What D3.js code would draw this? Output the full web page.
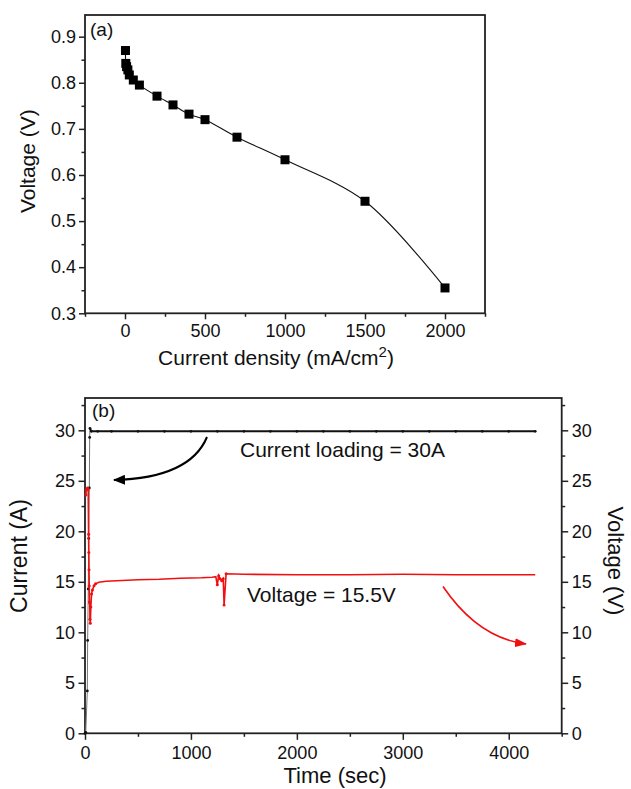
<!DOCTYPE html>
<html>
<head>
<meta charset="utf-8">
<script src="https://cdn.jsdelivr.net/npm/d3@7"></script>
<style>
  html, body { margin: 0; padding: 0; background: #fff; }
  svg { display: block; }
  text { font-family: "Liberation Sans", Arial, Helvetica, sans-serif; fill: #111; }
</style>
</head>
<body>
<svg id="chart" width="631" height="789"></svg>
<script>
// ---------- Panel (a): polarization curve ----------
const currentDensity = [3, 5, 10, 18, 27, 52, 90, 200, 300, 400, 500, 700, 1000, 1500, 2000];
const cellVoltage    = [0.87, 0.842, 0.835, 0.828, 0.817, 0.806, 0.795, 0.771, 0.752, 0.732, 0.72, 0.682, 0.633, 0.543, 0.355];
const aXTicks = [0, 500, 1000, 1500, 2000];
const aXMinor = [-250, 250, 750, 1250, 1750, 2250];
const aYTicks = [0.3, 0.4, 0.5, 0.6, 0.7, 0.8, 0.9];
const aYMinor = [0.35, 0.45, 0.55, 0.65, 0.75, 0.85];

// ---------- Panel (b): stack test ----------
const currentTime = [0, 7, 22, 25, 31, 35, 41, 44, 47, 60, 120, 250, 500, 750, 1000, 1250, 1500, 1750, 2000, 2250, 2500, 2750, 3000, 3250, 3500, 3750, 4000, 4250];
const currentVal  = [0, 0.1, 4.2, 9.2, 14.3, 19.3, 24.3, 29.3, 30.2, 29.9, 29.9, 29.9, 29.9, 29.9, 29.9, 29.9, 29.9, 29.9, 29.9, 29.9, 29.9, 29.9, 29.9, 29.9, 29.9, 29.9, 29.9, 29.9];
const voltTime = [8, 12, 18, 24, 30, 34, 36, 38, 40, 42, 45, 47, 50, 55, 62, 70, 85, 100, 130, 200, 300, 500, 700, 900, 1100, 1200, 1235, 1249, 1262, 1275, 1291, 1305, 1313, 1332, 1500, 2000, 2500, 3000, 3500, 4000, 4250];
const voltVal  = [23.6, 24.1, 24.2, 24.3, 24.2, 19.7, 17.9, 16.2, 14.6, 13.0, 12.9, 11.3, 10.9, 12.5, 13.8, 14.2, 14.6, 14.8, 14.95, 15.05, 15.1, 15.2, 15.25, 15.35, 15.4, 15.45, 15.5, 14.7, 15.6, 15.3, 15.1, 15.3, 12.7, 15.8, 15.75, 15.7, 15.7, 15.75, 15.7, 15.7, 15.7];
const bXTicks = [0, 1000, 2000, 3000, 4000];
const bXMinor = [500, 1500, 2500, 3500, 4500];
const bYTicks = [0, 5, 10, 15, 20, 25, 30];
const bYMinor = [2.5, 7.5, 12.5, 17.5, 22.5, 27.5, 32.5];

const svg = d3.select("#chart");
const AX = "#222";

function styleAxis(g, fs) {
  g.select(".domain").remove();
  g.selectAll(".tick line").attr("stroke", AX).attr("stroke-width", 1.5);
  g.selectAll(".tick text").style("font-size", fs + "px").attr("fill", "#111");
}

// ======== Panel (a) ========
const aL = 85, aR = 485, aT = 15, aB = 313.3;
const xa = d3.scaleLinear().domain([-250, 2250]).range([aL, aR]);
const ya = d3.scaleLinear().domain([0.3, 0.947]).range([aB, aT]);

const ga = svg.append("g");
ga.append("g").attr("transform", `translate(0,${aB})`)
  .call(d3.axisBottom(xa).tickValues(aXTicks).tickFormat(d3.format("d")).tickSize(6).tickPadding(5))
  .call(g => styleAxis(g, 18));
ga.append("g").attr("transform", `translate(0,${aB})`)
  .call(d3.axisBottom(xa).tickValues(aXMinor).tickFormat("").tickSize(3.5))
  .call(g => styleAxis(g, 18));
ga.append("g").attr("transform", `translate(${aL},0)`)
  .call(d3.axisLeft(ya).tickValues(aYTicks).tickFormat(d3.format(".1f")).tickSize(6).tickPadding(3))
  .call(g => styleAxis(g, 18));
ga.append("g").attr("transform", `translate(${aL},0)`)
  .call(d3.axisLeft(ya).tickValues(aYMinor).tickFormat("").tickSize(3.5))
  .call(g => styleAxis(g, 18));
ga.append("rect").attr("x", aL).attr("y", aT).attr("width", aR - aL).attr("height", aB - aT)
  .attr("fill", "none").attr("stroke", AX).attr("stroke-width", 1.8);

const aData = currentDensity.map((c, i) => ({ x: c, y: cellVoltage[i] }));
ga.append("path").datum(aData)
  .attr("fill", "none").attr("stroke", "#111").attr("stroke-width", 1.1)
  .attr("d", d3.line().x(d => xa(d.x)).y(d => ya(d.y)).curve(d3.curveCatmullRom.alpha(0.5)));
ga.selectAll("rect.pt").data(aData).enter().append("rect").attr("class", "pt")
  .attr("x", d => xa(d.x) - 4.5).attr("y", d => ya(d.y) - 4.5)
  .attr("width", 9).attr("height", 9).attr("fill", "#000");

ga.append("text").attr("x", 90).attr("y", 36).style("font-size", "19px").text("(a)");
ga.append("text").attr("x", 276).attr("y", 365).attr("text-anchor", "middle").style("font-size", "21px")
  .text("Current density (mA/cm")
  .call(t => t.append("tspan").attr("dy", -8).style("font-size", "15px").text("2"))
  .call(t => t.append("tspan").attr("dy", 8).text(")"));
ga.append("text").attr("transform", `translate(35,${(aT + aB) / 2 - 3}) rotate(-90)`)
  .attr("text-anchor", "middle").style("font-size", "21px").text("Voltage (V)");

// ======== Panel (b) ========
const bL = 85, bR = 561.7, bT = 398, bB = 733.3;
const xb = d3.scaleLinear().domain([0, 4500]).range([bL, bR]);
const yb = d3.scaleLinear().domain([0, 33.2]).range([bB, bT]);

const gb = svg.append("g");
gb.append("g").attr("transform", `translate(0,${bB})`)
  .call(d3.axisBottom(xb).tickValues(bXTicks).tickFormat(d3.format("d")).tickSize(6.5).tickPadding(6))
  .call(g => styleAxis(g, 18));
gb.append("g").attr("transform", `translate(0,${bB})`)
  .call(d3.axisBottom(xb).tickValues(bXMinor).tickFormat("").tickSize(3.5))
  .call(g => styleAxis(g, 18));
gb.append("g").attr("transform", `translate(${bL},0)`)
  .call(d3.axisLeft(yb).tickValues(bYTicks).tickFormat(d3.format("d")).tickSize(6.5).tickPadding(3.5))
  .call(g => styleAxis(g, 18));
gb.append("g").attr("transform", `translate(${bL},0)`)
  .call(d3.axisLeft(yb).tickValues(bYMinor).tickFormat("").tickSize(3.5))
  .call(g => styleAxis(g, 18));
gb.append("g").attr("transform", `translate(${bR},0)`)
  .call(d3.axisRight(yb).tickValues(bYTicks).tickFormat(d3.format("d")).tickSize(6.5).tickPadding(3.5))
  .call(g => styleAxis(g, 18));
gb.append("g").attr("transform", `translate(${bR},0)`)
  .call(d3.axisRight(yb).tickValues(bYMinor).tickFormat("").tickSize(3.5))
  .call(g => styleAxis(g, 18));
gb.append("rect").attr("x", bL).attr("y", bT).attr("width", bR - bL).attr("height", bB - bT)
  .attr("fill", "none").attr("stroke", AX).attr("stroke-width", 1.8);

const cData = currentTime.map((t, i) => ({ x: t, y: currentVal[i] }));
const vData = voltTime.map((t, i) => ({ x: t, y: voltVal[i] }));
const lineB = d3.line().x(d => xb(d.x)).y(d => yb(d.y));

// current: thin rise, thick plateau
gb.append("path").datum(cData.filter(d => d.x <= 47))
  .attr("fill", "none").attr("stroke", "#777").attr("stroke-width", 1).attr("d", lineB);
gb.append("path").datum(cData.filter(d => d.x >= 47))
  .attr("fill", "none").attr("stroke", "#111").attr("stroke-width", 2).attr("d", lineB);
gb.selectAll("circle.c").data(cData).enter().append("circle").attr("class", "c")
  .attr("cx", d => xb(d.x)).attr("cy", d => yb(d.y)).attr("r", 1.4).attr("fill", "#111");

// voltage
gb.append("path").datum(vData)
  .attr("fill", "none").attr("stroke", "#f01010").attr("stroke-width", 1.6).attr("d", lineB);
gb.selectAll("circle.v").data(vData.filter(d => d.x < 120 || (d.x > 1240 && d.x < 1340))).enter()
  .append("circle").attr("class", "v")
  .attr("cx", d => xb(d.x)).attr("cy", d => yb(d.y)).attr("r", 1.5).attr("fill", "#f01010");

// arrows
const defs = svg.append("defs");
defs.append("marker").attr("id", "ahB").attr("markerUnits", "userSpaceOnUse")
  .attr("viewBox", "0 0 12 10").attr("refX", 11).attr("refY", 5)
  .attr("markerWidth", 12).attr("markerHeight", 10).attr("orient", "auto")
  .append("path").attr("d", "M0,0 L12,5 L0,10 z").attr("fill", "#000");
defs.append("marker").attr("id", "ahR").attr("markerUnits", "userSpaceOnUse")
  .attr("viewBox", "0 0 12 9").attr("refX", 11).attr("refY", 4.5)
  .attr("markerWidth", 12).attr("markerHeight", 9).attr("orient", "auto")
  .append("path").attr("d", "M0,0 L12,4.5 L0,9 z").attr("fill", "#f01010");

gb.append("path").attr("d", "M207,437 Q190,478 114,480")
  .attr("fill", "none").attr("stroke", "#000").attr("stroke-width", 2).attr("marker-end", "url(#ahB)");
gb.append("path").attr("d", "M443,586.5 Q478,638 526,644")
  .attr("fill", "none").attr("stroke", "#f01010").attr("stroke-width", 1.6).attr("marker-end", "url(#ahR)");

// labels
gb.append("text").attr("x", 92).attr("y", 417).style("font-size", "19px").text("(b)");
gb.append("text").attr("x", 240).attr("y", 457).style("font-size", "21px").text("Current loading = 30A");
gb.append("text").attr("x", 247).attr("y", 602).style("font-size", "21px").text("Voltage = 15.5V");
gb.append("text").attr("x", 335).attr("y", 783).attr("text-anchor", "middle").style("font-size", "22px").text("Time (sec)");
gb.append("text").attr("transform", `translate(27,556) rotate(-90)`)
  .attr("text-anchor", "middle").style("font-size", "23px").text("Current (A)");
gb.append("text").attr("transform", `translate(608,561) rotate(90)`)
  .attr("text-anchor", "middle").style("font-size", "22px").text("Voltage (V)");
</script>
</body>
</html>
